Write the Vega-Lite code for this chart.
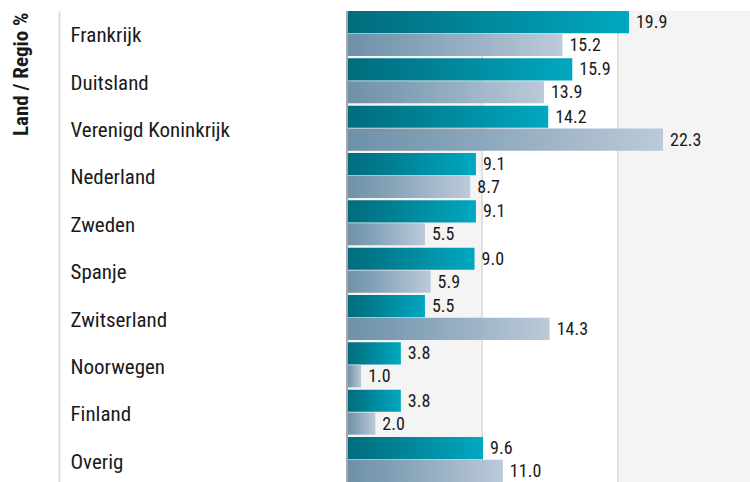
{
  "$schema": "https://vega.github.io/schema/vega-lite/v6.json",
  "width": 403,
  "height": 471,
  "autosize": {"type": "none"},
  "padding": {"left": 347, "top": 11, "right": 0, "bottom": 0},
  "background": "white",
  "config": {
    "view": {"fill": "#f4f4f4", "stroke": null},
    "font": "Roboto Condensed, Roboto"
  },
  "data": {
    "values": [
      {"land": "Frankrijk", "serie": "Fonds", "waarde": 19.9},
      {"land": "Frankrijk", "serie": "Benchmark", "waarde": 15.2},
      {"land": "Duitsland", "serie": "Fonds", "waarde": 15.9},
      {"land": "Duitsland", "serie": "Benchmark", "waarde": 13.9},
      {"land": "Verenigd Koninkrijk", "serie": "Fonds", "waarde": 14.2},
      {"land": "Verenigd Koninkrijk", "serie": "Benchmark", "waarde": 22.3},
      {"land": "Nederland", "serie": "Fonds", "waarde": 9.1},
      {"land": "Nederland", "serie": "Benchmark", "waarde": 8.7},
      {"land": "Zweden", "serie": "Fonds", "waarde": 9.1},
      {"land": "Zweden", "serie": "Benchmark", "waarde": 5.5},
      {"land": "Spanje", "serie": "Fonds", "waarde": 9.0},
      {"land": "Spanje", "serie": "Benchmark", "waarde": 5.9},
      {"land": "Zwitserland", "serie": "Fonds", "waarde": 5.5},
      {"land": "Zwitserland", "serie": "Benchmark", "waarde": 14.3},
      {"land": "Noorwegen", "serie": "Fonds", "waarde": 3.8},
      {"land": "Noorwegen", "serie": "Benchmark", "waarde": 1.0},
      {"land": "Finland", "serie": "Fonds", "waarde": 3.8},
      {"land": "Finland", "serie": "Benchmark", "waarde": 2.0},
      {"land": "Overig", "serie": "Fonds", "waarde": 9.6},
      {"land": "Overig", "serie": "Benchmark", "waarde": 11.0}
    ]
  },
  "layer": [
    {
      "data": {"values": [{}]},
      "mark": {"type": "rect", "color": "white"},
      "encoding": {
        "x": {"datum": 9.53, "type": "quantitative", "scale": {"domain": [0, 28.44], "nice": false, "zero": true}, "axis": null},
        "x2": {"datum": 19.12}
      }
    },
    {
      "data": {"values": [{}]},
      "mark": {"type": "rule", "color": "#dcdcdc", "strokeWidth": 1.6},
      "encoding": {"x": {"datum": 9.53, "type": "quantitative", "axis": null}}
    },
    {
      "data": {"values": [{}]},
      "mark": {"type": "rule", "color": "#dcdcdc", "strokeWidth": 1.6},
      "encoding": {"x": {"datum": 19.12, "type": "quantitative", "axis": null}}
    },
    {
      "transform": [{"filter": "datum.serie === 'Fonds'"}],
      "mark": {
        "type": "bar",
        "color": {
          "gradient": "linear", "x1": 0, "x2": 1, "y1": 0, "y2": 0,
          "stops": [
            {"offset": 0, "color": "#006c7d"},
            {"offset": 0.3, "color": "#007d8f"},
            {"offset": 1, "color": "#00a8c1"}
          ]
        }
      },
      "encoding": {
        "y": {
          "field": "land", "type": "nominal",
          "scale": {
            "domain": ["Frankrijk", "Duitsland", "Verenigd Koninkrijk", "Nederland", "Zweden", "Spanje", "Zwitserland", "Noorwegen", "Finland", "Overig"],
            "paddingInner": 0.05, "paddingOuter": 0
          },
          "axis": {
            "title": "Land / Regio %",
            "offset": 288,
            "domainColor": "#dadada",
            "domainWidth": 1.8,
            "ticks": false,
            "tickSize": 0,
            "labelAlign": "left",
            "labelPadding": -11,
            "labelOffset": 3,
            "labelFontSize": 21,
            "labelColor": "#1a1a1a",
            "labelFont": "Roboto Condensed, Roboto",
            "titleFont": "Roboto Condensed, Roboto",
            "titleFontSize": 21,
            "titleFontWeight": "bold",
            "titleColor": "#1a1a1a",
            "titleAngle": -90,
            "titleAlign": "right",
            "titleBaseline": "alphabetic",
            "titleX": -32,
            "titleY": 1
          }
        },
        "yOffset": {"field": "serie", "type": "nominal", "scale": {"domain": ["Fonds", "Benchmark"], "paddingInner": 0.03, "paddingOuter": 0}},
        "x": {"field": "waarde", "type": "quantitative", "axis": null}
      }
    },
    {
      "transform": [{"filter": "datum.serie === 'Benchmark'"}],
      "mark": {
        "type": "bar",
        "color": {
          "gradient": "linear", "x1": 0, "x2": 1, "y1": 0, "y2": 0,
          "stops": [
            {"offset": 0, "color": "#6e91a7"},
            {"offset": 0.3, "color": "#82a0b6"},
            {"offset": 1, "color": "#bccad9"}
          ]
        }
      },
      "encoding": {
        "y": {"field": "land", "type": "nominal"},
        "yOffset": {"field": "serie", "type": "nominal"},
        "x": {"field": "waarde", "type": "quantitative", "axis": null}
      }
    },
    {
      "data": {"values": [{}]},
      "mark": {"type": "rule", "color": "#a8a8a8", "strokeWidth": 2},
      "encoding": {"x": {"datum": 0, "type": "quantitative", "axis": null}}
    },
    {
      "mark": {"type": "text", "align": "left", "baseline": "middle", "dx": 7, "dy": 1, "fontSize": 18, "color": "#1a1a1a", "font": "Roboto Condensed, Roboto"},
      "encoding": {
        "y": {"field": "land", "type": "nominal"},
        "yOffset": {"field": "serie", "type": "nominal"},
        "x": {"field": "waarde", "type": "quantitative", "axis": null},
        "text": {"field": "waarde", "type": "quantitative", "format": ".1f"}
      }
    }
  ]
}
